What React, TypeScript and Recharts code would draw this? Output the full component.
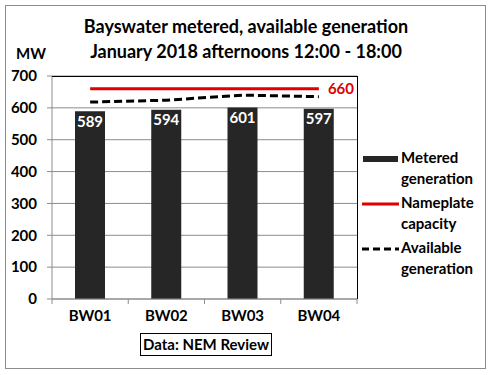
import React from "react";
import {
  ComposedChart,
  Bar,
  Line,
  XAxis,
  YAxis,
  CartesianGrid,
  LabelList,
} from "recharts";

const units = ["BW01", "BW02", "BW03", "BW04"];
const metered = [589, 594, 601, 597];
const nameplate = [660, 660, 660, 660];
const available = [618, 624, 640, 635];
const yTicks = [0, 100, 200, 300, 400, 500, 600, 700];

const data = units.map((u, i) => ({
  unit: u,
  metered: metered[i],
  nameplate: nameplate[i],
  available: available[i],
}));

const FONT = "Lato, 'Open Sans', sans-serif";

const NameplateLabel = (props: any) => {
  const { x, y, index, value } = props;
  if (index !== units.length - 1) return null;
  return (
    <text
      x={x + 9}
      y={y}
      dy={5}
      fill="#e00000"
      fontWeight="bold"
      fontSize={15}
      fontFamily={FONT}
    >
      {value}
    </text>
  );
};

const CategoryTick = (props: any) => {
  const { x, y, payload, index } = props;
  const half = payload && payload.offset ? payload.offset : 0;
  return (
    <g>
      <line x1={x - half} x2={x - half} y1={y} y2={y + 5} stroke="#8c8c8c" />
      {index === units.length - 1 && (
        <line x1={x + half} x2={x + half} y1={y} y2={y + 5} stroke="#8c8c8c" />
      )}
      <text
        x={x}
        y={y + 22}
        textAnchor="middle"
        fill="#000"
        fontFamily={FONT}
        fontWeight="bold"
        fontSize={15}
      >
        {payload.value}
      </text>
    </g>
  );
};

const LegendBlock = () => {
  const item = (sym: React.ReactNode, l1: string, l2: string) => (
    <div style={{ display: "flex", alignItems: "flex-start", marginBottom: 4 }}>
      <svg width={39} height={20} style={{ flex: "none" }}>
        {sym}
      </svg>
      <div style={{ lineHeight: "21px", marginTop: -1 }}>
        <div>{l1}</div>
        <div>{l2}</div>
      </div>
    </div>
  );
  return (
    <div
      style={{
        position: "absolute",
        left: 362,
        top: 148,
        width: 125,
        fontFamily: FONT,
        fontWeight: "bold",
        fontSize: 15,
        color: "#000",
      }}
    >
      {item(<rect x={1} y={8} width={35} height={6} fill="#262626" />, "Metered", "generation")}
      {item(<line x1={0} x2={37} y1={11} y2={11} stroke="#e00000" strokeWidth={3} />, "Nameplate", "capacity")}
      {item(
        <line x1={0} x2={37} y1={11} y2={11} stroke="#000" strokeWidth={3} strokeDasharray="7 4" />,
        "Available",
        "generation"
      )}
    </div>
  );
};

export default function App() {
  return (
    <div style={{ position: "relative", width: 492, height: 375, background: "#fff" }}>
      <style>{`body{margin:0}`}</style>
      <ComposedChart
        width={492}
        height={375}
        data={data}
        margin={{ top: 76, right: 135, bottom: 46, left: 0 }}
        style={{ position: "absolute", left: 0, top: 0 }}
      >
        <CartesianGrid vertical={false} stroke="#8c8c8c" />
        <XAxis
          dataKey="unit"
          stroke="#8c8c8c"
          tickLine={false}
          tickSize={0}
          tickMargin={0}
          height={30}
          tick={<CategoryTick />}
        />
        <YAxis
          domain={[0, 700]}
          ticks={yTicks}
          width={52}
          tickSize={5}
          tickMargin={10}
          stroke="#8c8c8c"
          tick={{ fill: "#000", fontFamily: FONT, fontWeight: "bold", fontSize: 15 }}
        />
        <Bar dataKey="metered" fill="#262626" barSize={30} isAnimationActive={false}>
          <LabelList
            dataKey="metered"
            position="insideTop"
            offset={5}
            fill="#fff"
            fontFamily={FONT}
            fontWeight="bold"
            fontSize={15}
          />
        </Bar>
        <Line
          dataKey="nameplate"
          stroke="#e00000"
          strokeWidth={3}
          dot={false}
          isAnimationActive={false}
        >
          <LabelList dataKey="nameplate" content={<NameplateLabel />} />
        </Line>
        <Line
          dataKey="available"
          stroke="#000"
          strokeWidth={3}
          strokeDasharray="8 4"
          dot={false}
          isAnimationActive={false}
        />
      </ComposedChart>
      <div
        style={{
          position: "absolute",
          left: 52,
          top: 76,
          width: 306,
          height: 223,
          boxSizing: "border-box",
          borderTop: "1px solid #000",
          borderRight: "1px solid #000",
          pointerEvents: "none",
        }}
      />
      <div
        style={{
          position: "absolute",
          left: 5,
          top: 5,
          width: 479,
          height: 362,
          border: "1px solid #8c8c8c",
          pointerEvents: "none",
        }}
      />
      <div
        style={{
          position: "absolute",
          left: 0,
          top: 14,
          width: 492,
          textAlign: "center",
          fontFamily: FONT,
          fontWeight: "bold",
          fontSize: 18,
          lineHeight: "25px",
          color: "#000",
        }}
      >
        <div>Bayswater metered, available generation</div>
        <div>January 2018 afternoons 12:00 - 18:00</div>
      </div>
      <div
        style={{
          position: "absolute",
          left: 16,
          top: 44,
          fontFamily: FONT,
          fontWeight: "bold",
          fontSize: 15,
          color: "#000",
        }}
      >
        MW
      </div>
      <div
        style={{
          position: "absolute",
          left: 140,
          top: 333,
          width: 130,
          height: 21,
          border: "1px solid #000",
          fontFamily: FONT,
          fontWeight: "bold",
          fontSize: 15,
          lineHeight: "21px",
          textAlign: "center",
          color: "#000",
        }}
      >
        Data: NEM Review
      </div>
      <LegendBlock />
    </div>
  );
}
